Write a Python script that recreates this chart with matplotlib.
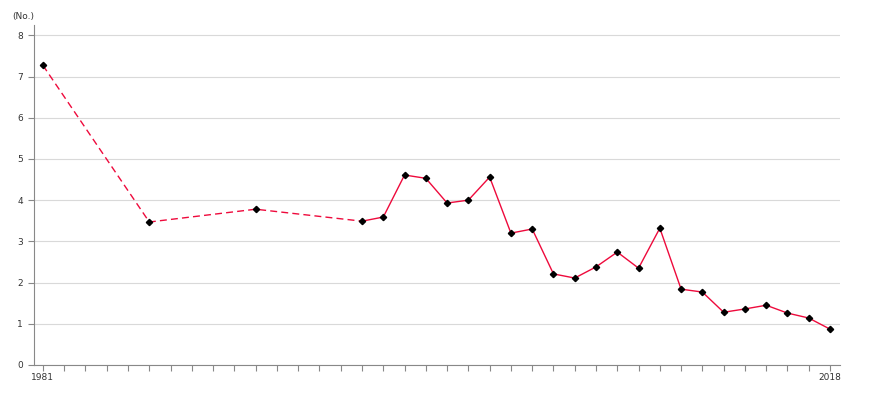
import numpy as np
import matplotlib.pyplot as plt

# Data
years = [1981, 1986, 1991, 1996, 1997, 1998, 1999, 2000, 2001, 2002, 2003, 2004,
         2005, 2006, 2007, 2008, 2009, 2010, 2011, 2012, 2013, 2014, 2015, 2016,
         2017, 2018]
values = [7.27, 3.47, 3.78, 3.49, 3.59, 4.61, 4.53, 3.93, 4.00, 4.56, 3.20, 3.30,
          2.21, 2.11, 2.38, 2.74, 2.35, 3.32, 1.84, 1.77, 1.28, 1.36, 1.45, 1.26,
          1.14, 0.87]
split_year = 1996  # dashed before, solid after

years = np.array(years)
values = np.array(values)
line_color = "#ee0a3c"

fig = plt.figure(figsize=(8.7, 4.0), dpi=100)
ax = fig.add_axes([34 / 870, 35 / 400, 806 / 870, 340 / 400])

k = np.where(years == split_year)[0][0]
ax.plot(years[:k + 1], values[:k + 1], color=line_color, lw=1.0, ls=(0, (5, 3)))
ax.plot(years[k:], values[k:], color=line_color, lw=1.0)
ax.plot(years, values, ls="none", marker="D", ms=3.2, color="black", zorder=3)

ax.set_xlim(1980.58, 2018.47)
ax.set_ylim(0, 8.25)
ax.set_yticks(range(0, 9))
ax.set_xticks(range(1981, 2019))
ax.set_xticklabels([str(y) if y in (1981, 2018) else "" for y in range(1981, 2019)])
ax.yaxis.grid(True, color="#d9d9d9", lw=0.8)
ax.set_axisbelow(True)

for s in ["top", "right"]:
    ax.spines[s].set_visible(False)
for s in ["left", "bottom"]:
    ax.spines[s].set_color("#888888")
ax.tick_params(axis="both", colors="#888888", labelcolor="#333333", labelsize=6.5,
               length=4, width=0.8)
ax.tick_params(axis="y", pad=4)
ax.tick_params(axis="x", pad=2)

fig.text(12 / 870, 1 - 17 / 400, "(No.)", fontsize=6.5, color="#333333", va="center")

fig.savefig("out.png", dpi=100)
